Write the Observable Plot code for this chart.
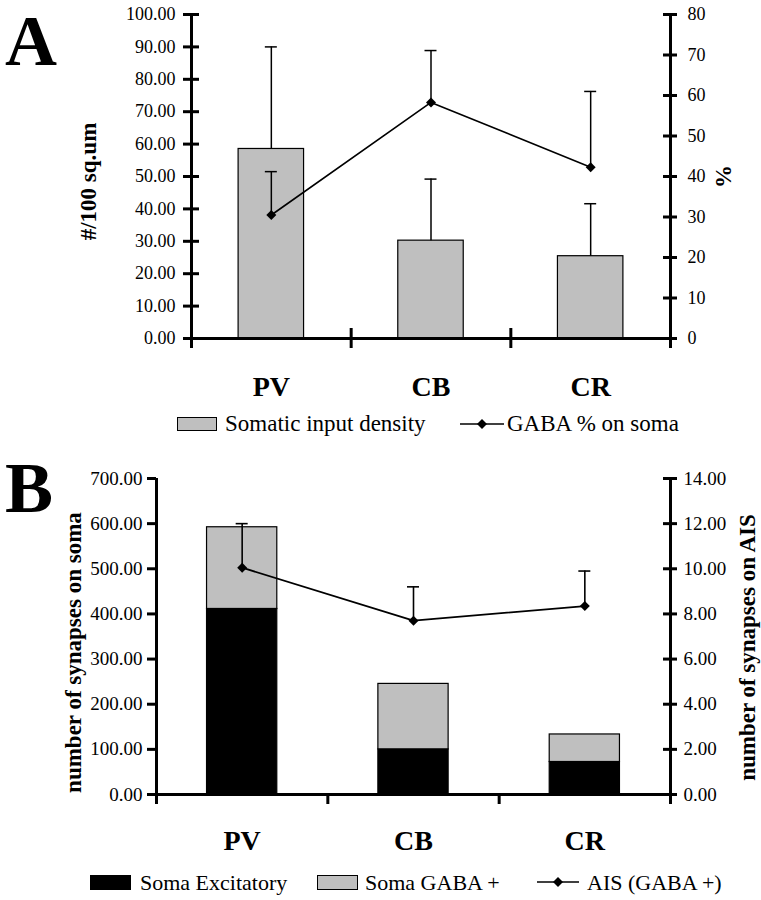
<!DOCTYPE html>
<html><head><meta charset="utf-8">
<script src="https://cdn.jsdelivr.net/npm/d3@7"></script>
<script src="https://cdn.jsdelivr.net/npm/@observablehq/plot@0.6"></script>
<style>
body{margin:0;background:#fff;}
#root{position:relative;width:761px;height:900px;overflow:hidden;font-family:"Liberation Serif",serif;color:#000;background:#fff;}
.abs{position:absolute;white-space:nowrap;}
.letter{font-weight:bold;font-size:72px;line-height:72px;}
.legA{font-size:23px;line-height:23px;}
.legB{font-size:22px;line-height:22px;}
.sw{position:absolute;box-sizing:border-box;border:1px solid #000;}
</style></head><body><div id="root"></div>
<script>
// ---------- data ----------
const categories = ["PV", "CB", "CR"];
// Panel A
const somaticDensity = [58.5, 30.2, 25.4];          // #/100 sq.um (bars)
const somaticDensityTop = [90.0, 49.2, 41.6];       // upper end of error bar
const gabaPct = [30.5, 58.3, 42.3];                 // % (line)
const gabaPctTop = [41.2, 71.1, 61.0];              // upper end of error bar
const leftTicksA = [0, 10, 20, 30, 40, 50, 60, 70, 80, 90, 100];
const rightTicksA = [0, 10, 20, 30, 40, 50, 60, 70, 80];
// Panel B
const somaExcitatory = [411, 100, 72];
const somaGaba = [181, 145, 61];
const aisGaba = [10.05, 7.7, 8.35];
const aisGabaTop = [12.0, 9.2, 9.9];
const leftTicksB = [0, 100, 200, 300, 400, 500, 600, 700];
const rightTicksB = [0, 2, 4, 6, 8, 10, 12, 14];
const seriesB = ["Soma Excitatory", "Soma GABA +"];

const root = document.getElementById("root");
const FONT = '"Liberation Serif", serif';
const gray = "#bfbfbf";
const bw = 0.41;

// ---------- Panel A ----------
const kA = 100 / 80;
const dataA = categories.map((c, i) => ({
  c, x: i + 0.5, v: somaticDensity[i], top: somaticDensityTop[i],
  p: gabaPct[i] * kA, ptop: gabaPctTop[i] * kA
}));

const plotA = Plot.plot({
  width: 761, height: 410,
  marginTop: 14, marginBottom: 72, marginLeft: 191, marginRight: 91,
  style: {fontFamily: FONT, background: "transparent", color: "black", overflow: "visible"},
  x: {domain: [0, 3], axis: null},
  y: {domain: [0, 100], axis: null},
  marks: [
    Plot.rectY(dataA, {x1: d => d.x - bw / 2, x2: d => d.x + bw / 2, y1: 0, y2: "v", fill: gray, stroke: "black", strokeWidth: 1.2}),
    Plot.ruleX(dataA, {x: "x", y1: "v", y2: "top", stroke: "black", strokeWidth: 1.5}),
    Plot.ruleY(dataA, {y: "top", x1: "x", x2: "x", insetLeft: -6, insetRight: -6, stroke: "black", strokeWidth: 1.5}),
    Plot.ruleX(dataA, {x: "x", y1: "p", y2: "ptop", stroke: "black", strokeWidth: 1.5}),
    Plot.ruleY(dataA, {y: "ptop", x1: "x", x2: "x", insetLeft: -6, insetRight: -6, stroke: "black", strokeWidth: 1.5}),
    Plot.line(dataA, {x: "x", y: "p", stroke: "black", strokeWidth: 1.6}),
    Plot.dot(dataA, {x: "x", y: "p", symbol: "diamond2", r: 4.5, fill: "black", stroke: null}),
    Plot.ruleX([0, 3], {x: d => d, strokeWidth: 3, insetBottom: -10}),
    Plot.ruleY([0], {y: d => d, strokeWidth: 3}),
    Plot.ruleX([1, 2], {x: d => d, y1: 0, y2: 0, insetTop: -10, insetBottom: -10, strokeWidth: 3}),
    Plot.ruleY(leftTicksA, {y: d => d, x1: 0, x2: 0, insetLeft: -8, insetRight: -8, strokeWidth: 3}),
    Plot.ruleY(rightTicksA.map(v => v * kA), {y: d => d, x1: 3, x2: 3, insetLeft: -7, insetRight: -7, strokeWidth: 3}),
    Plot.axisY({ticks: leftTicksA, tickFormat: d => d.toFixed(2), tickSize: 0, tickPadding: 16, fontSize: 18, label: null}),
    Plot.axisY({anchor: "right", ticks: rightTicksA.map(v => v * kA), tickFormat: d => String(Math.round(d / kA)), tickSize: 0, tickPadding: 17, fontSize: 18, label: null}),
    Plot.axisX({ticks: [0.5, 1.5, 2.5], tickFormat: d => categories[Math.floor(d)], tickSize: 0, tickPadding: 38, fontSize: 28, fontWeight: "bold", label: null}),
    Plot.text(["#/100 sq.um"], {text: d => d, frameAnchor: "left", textAnchor: "middle", rotate: -90, dx: -103, dy: 5, fontSize: 23, fontWeight: "bold"}),
    Plot.text(["%"], {text: d => d, frameAnchor: "right", textAnchor: "middle", rotate: -90, dx: 53, fontSize: 23, fontWeight: "bold"})
  ]
});
plotA.style.position = "absolute";
plotA.style.left = "0px";
plotA.style.top = "0px";
root.appendChild(plotA);

// ---------- Panel B ----------
const kB = 700 / 14;
const stackB = categories.flatMap((c, i) => [
  {c, x: i + 0.5, series: seriesB[0], y1: 0, y2: somaExcitatory[i]},
  {c, x: i + 0.5, series: seriesB[1], y1: somaExcitatory[i], y2: somaExcitatory[i] + somaGaba[i]}
]);
const lineB = categories.map((c, i) => ({c, x: i + 0.5, p: aisGaba[i] * kB, ptop: aisGabaTop[i] * kB}));

const plotB = Plot.plot({
  width: 761, height: 460,
  marginTop: 38, marginBottom: 106, marginLeft: 156, marginRight: 91,
  style: {fontFamily: FONT, background: "transparent", color: "black", overflow: "visible"},
  x: {domain: [0, 3], axis: null},
  y: {domain: [0, 700], axis: null},
  color: {domain: seriesB, range: ["black", gray]},
  marks: [
    Plot.rectY(stackB, {x1: d => d.x - bw / 2, x2: d => d.x + bw / 2, y1: "y1", y2: "y2", fill: "series", stroke: "black", strokeWidth: 1.2}),
    Plot.ruleX(lineB, {x: "x", y1: "p", y2: "ptop", stroke: "black", strokeWidth: 1.6}),
    Plot.ruleY(lineB, {y: "ptop", x1: "x", x2: "x", insetLeft: -6, insetRight: -6, stroke: "black", strokeWidth: 1.6}),
    Plot.line(lineB, {x: "x", y: "p", stroke: "black", strokeWidth: 1.8}),
    Plot.dot(lineB, {x: "x", y: "p", symbol: "diamond2", r: 4.5, fill: "black", stroke: null}),
    Plot.ruleX([0, 3], {x: d => d, strokeWidth: 3, insetBottom: -10}),
    Plot.ruleY([0], {y: d => d, strokeWidth: 3}),
    Plot.ruleX([1, 2], {x: d => d, y1: 0, y2: 0, insetBottom: -10, strokeWidth: 3}),
    Plot.ruleY(leftTicksB, {y: d => d, x1: 0, x2: 0, insetLeft: -9, insetRight: 0, strokeWidth: 3}),
    Plot.ruleY(rightTicksB.map(v => v * kB), {y: d => d, x1: 3, x2: 3, insetLeft: -7, insetRight: -7, strokeWidth: 3}),
    Plot.axisY({ticks: leftTicksB, tickFormat: d => d.toFixed(2), tickSize: 0, tickPadding: 14, fontSize: 19, label: null}),
    Plot.axisY({anchor: "right", ticks: rightTicksB.map(v => v * kB), tickFormat: d => (d / kB).toFixed(2), tickSize: 0, tickPadding: 13, fontSize: 19, label: null}),
    Plot.axisX({ticks: [0.5, 1.5, 2.5], tickFormat: d => categories[Math.floor(d)], tickSize: 0, tickPadding: 36, fontSize: 28, fontWeight: "bold", label: null}),
    Plot.text(["number of synapses on soma"], {text: d => d, frameAnchor: "left", textAnchor: "middle", rotate: -90, dx: -83, dy: 16, fontSize: 23, fontWeight: "bold"}),
    Plot.text(["number of synapses on AIS"], {text: d => d, frameAnchor: "right", textAnchor: "middle", rotate: -90, dx: 77, dy: 11, fontSize: 23, fontWeight: "bold"})
  ]
});
plotB.style.position = "absolute";
plotB.style.left = "0px";
plotB.style.top = "440px";
root.appendChild(plotB);

// ---------- panel letters & legends ----------
function addText(txt, cls, left, top) {
  const d = document.createElement("div");
  d.className = "abs " + cls;
  d.textContent = txt;
  d.style.left = left + "px";
  d.style.top = top + "px";
  root.appendChild(d);
}
function addSwatch(left, top, w, h, fill) {
  const d = document.createElement("div");
  d.className = "sw";
  Object.assign(d.style, {left: left + "px", top: top + "px", width: w + "px", height: h + "px", background: fill});
  root.appendChild(d);
}
function addLineSym(left, cy, w) {
  const ns = "http://www.w3.org/2000/svg";
  const s = document.createElementNS(ns, "svg");
  s.setAttribute("width", w); s.setAttribute("height", 14);
  s.style.position = "absolute"; s.style.left = left + "px"; s.style.top = (cy - 7) + "px";
  const l = document.createElementNS(ns, "line");
  l.setAttribute("x1", 0); l.setAttribute("x2", w); l.setAttribute("y1", 7); l.setAttribute("y2", 7);
  l.setAttribute("stroke", "black"); l.setAttribute("stroke-width", 1.6);
  s.appendChild(l);
  const p = document.createElementNS(ns, "path");
  const c = w / 2;
  p.setAttribute("d", `M${c},2L${c + 5},7L${c},12L${c - 5},7Z`);
  p.setAttribute("fill", "black");
  s.appendChild(p);
  root.appendChild(s);
}

addText("A", "letter", 5, 5);
addText("B", "letter", 5, 452);

addSwatch(177, 417, 40, 14, gray);
addText("Somatic input density", "legA", 225, 412);
addLineSym(460, 424, 44);
addText("GABA % on soma", "legA", 507, 412);

addSwatch(90, 875, 41, 15, "black");
addText("Soma Excitatory", "legB", 140, 872);
addSwatch(317, 875, 41, 15, gray);
addText("Soma GABA +", "legB", 365, 872);
addLineSym(537, 882, 42);
addText("AIS (GABA +)", "legB", 587, 872);
</script></body></html>
